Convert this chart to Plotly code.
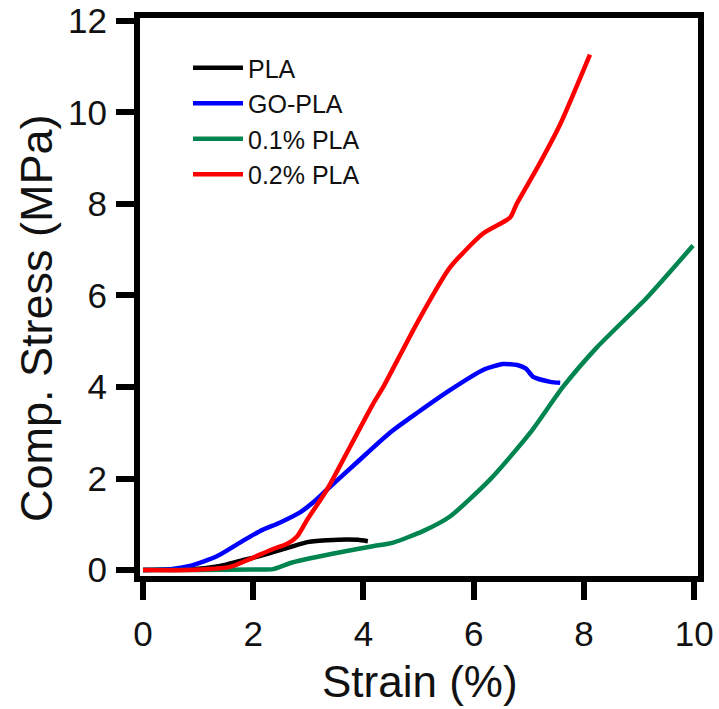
import plotly.graph_objects as go

# ---- data ----
pla_x = [0, 0.5, 1.0, 1.4, 1.76, 2.1, 2.36, 2.67, 2.98, 3.34, 3.7, 3.9, 4.08]
pla_y = [0, 0.01, 0.03, 0.09, 0.2, 0.3, 0.39, 0.5, 0.61, 0.65, 0.67, 0.66, 0.63]

go_x = [0, 0.5, 0.85, 1.34, 1.76, 2.12, 2.49, 2.85, 3.09, 3.34, 3.88, 4.48, 4.97,
        5.57, 6.17, 6.53, 6.79, 6.95, 7.08, 7.39, 7.57]
go_y = [0, 0.02, 0.09, 0.3, 0.6, 0.85, 1.04, 1.26, 1.48, 1.76, 2.35, 3.0, 3.43,
        3.93, 4.37, 4.5, 4.48, 4.4, 4.22, 4.11, 4.09]

p01_x = [0, 1.0, 2.0, 2.36, 2.72, 3.58, 4.17, 4.54, 5.08, 5.57, 6.3, 7.02, 7.62,
         8.24, 9.15, 9.98]
p01_y = [0, 0, 0.01, 0.02, 0.17, 0.39, 0.52, 0.6, 0.85, 1.17, 1.98, 2.99, 4.0,
         4.87, 5.96, 7.09]

p02_x = [0, 0.8, 1.58, 1.94, 2.36, 2.61, 2.8, 2.98, 3.34, 3.76, 4.17, 4.36, 4.97,
         5.57, 6.17, 6.66, 6.78, 7.15, 7.57, 8.11]
p02_y = [0, 0.0, 0.07, 0.24, 0.46, 0.57, 0.74, 1.1, 1.76, 2.7, 3.62, 4.0, 5.39,
         6.61, 7.35, 7.70, 8.0, 8.78, 9.74, 11.26]

names = ["PLA", "GO-PLA", "0.1% PLA", "0.2% PLA"]
colors = ["#000000", "#0000ff", "#008450", "#ff0000"]

x_ticks = [0, 2, 4, 6, 8, 10]
y_ticks = [0, 2, 4, 6, 8, 10, 12]

FONT = "Arial, Liberation Sans, sans-serif"

fig = go.Figure()
for xs, ys, nm, c in zip([pla_x, go_x, p01_x, p02_x],
                         [pla_y, go_y, p01_y, p02_y], names, colors):
    fig.add_trace(go.Scatter(x=xs, y=ys, mode="lines", name=nm,
                             line=dict(color=c, width=4.5, shape="spline", smoothing=0.6)))

axis_common = dict(showline=True, linecolor="black", linewidth=6, mirror=True,
                   ticks="outside", ticklen=18, tickwidth=6, tickcolor="black",
                   showgrid=False, zeroline=False, automargin=False,
                   ticklabeloverflow="allow",
                   tickfont=dict(family=FONT, size=35, color="#111"))

fig.update_xaxes(range=[-0.054, 10.07], tickvals=x_ticks,
                 ticktext=[str(v) for v in x_ticks], ticklabelstandoff=4, **axis_common)
fig.update_yaxes(range=[-0.13, 12.06], tickvals=y_ticks,
                 ticktext=[str(v) for v in y_ticks], ticklabelstandoff=2, **axis_common)

W, H = 719, 709
L, R, T, B = 140, 21, 18, 133
pw, ph = W - L - R, H - T - B

fig.add_annotation(text="Strain (%)", xref="paper", yref="paper",
                   x=(420 - L) / pw, y=(H - B - 681) / ph, xanchor="center", yanchor="middle",
                   showarrow=False, font=dict(family=FONT, size=44, color="#111"))
fig.add_annotation(text="Comp. Stress (MPa)", xref="paper", yref="paper",
                   x=(36 - L) / pw, y=(H - B - 318) / ph, xanchor="center", yanchor="middle",
                   textangle=-90, showarrow=False,
                   font=dict(family=FONT, size=45, color="#111"))

fig.update_layout(
    template="none",
    width=W, height=H,
    margin=dict(l=L, r=R, t=T, b=B, autoexpand=False),
    plot_bgcolor="white", paper_bgcolor="white",
    showlegend=True,
    legend=dict(x=(188 - L) / pw, y=(H - B - 45) / ph, xanchor="left", yanchor="top",
                bgcolor="rgba(0,0,0,0)", font=dict(family=FONT, size=25, color="#111"),
                itemwidth=50, tracegroupgap=0),
)

# remove the default 8px page margin so the figure sits at the window's corner
fig.write_html("out.html", config={"displayModeBar": False},
               post_script="document.body.style.margin='0';")
